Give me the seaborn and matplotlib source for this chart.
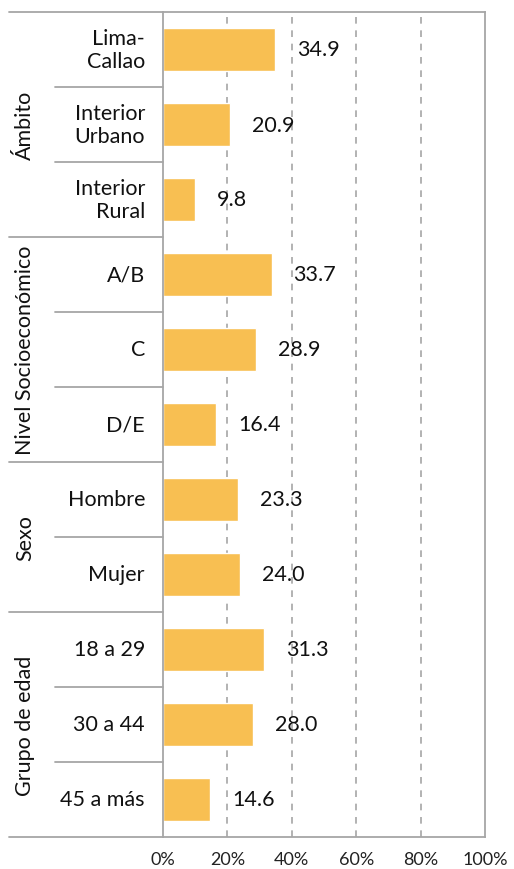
import matplotlib
matplotlib.use("Agg")
import matplotlib.pyplot as plt
import seaborn as sns
import pandas as pd
from matplotlib.lines import Line2D

categories = ["Lima-\nCallao", "Interior\nUrbano", "Interior\nRural", "A/B", "C", "D/E",
              "Hombre", "Mujer", "18 a 29", "30 a 44", "45 a más"]
values = [34.9, 20.9, 9.8, 33.7, 28.9, 16.4, 23.3, 24.0, 31.3, 28.0, 14.6]
value_labels = ["34.9", "20.9", "9.8", "33.7", "28.9", "16.4", "23.3", "24.0", "31.3", "28.0", "14.6"]
groups = ["Ámbito", "Nivel Socioeconómico", "Sexo", "Grupo de edad"]
group_sizes = [3, 3, 2, 3]
xticks = [0, 20, 40, 60, 80, 100]
xtick_labels = ["0%", "20%", "40%", "60%", "80%", "100%"]

sns.set_theme(style="white")
plt.rcParams["font.family"] = ["Lato", "DejaVu Sans"]

W, H = 514, 870
fig = plt.figure(figsize=(W / 100, H / 100), dpi=100)
L, R, T, B = 163, 485, 13, 838
ax = fig.add_axes([L / W, 1 - B / H, (R - L) / W, (B - T) / H])

df = pd.DataFrame({"cat": categories, "val": values})
sns.barplot(data=df, y="cat", x="val", orient="h", color="#F8BF52", saturation=1,
            width=0.58, ax=ax)

ax.set_xlim(0, 100)
ax.set_ylim(len(categories) - 0.5, -0.5)
ax.set_xlabel("")
ax.set_ylabel("")
ax.set_yticks([])
ax.set_xticks(xticks)
ax.set_xticklabels(xtick_labels, fontsize=13, color="#222222")
ax.tick_params(axis="x", length=5, width=1.2, color="#A6A6A6", pad=5)

gc = "#A6A6A6"
for s in ["left", "right", "top", "bottom"]:
    ax.spines[s].set_visible(True)
    ax.spines[s].set_color(gc)
    ax.spines[s].set_linewidth(1.3)

for xv in xticks[1:-1]:
    ax.axvline(xv, color=gc, linestyle=(0, (4, 4)), linewidth=1.2, zorder=0)

aw = R - L
tr = ax.get_yaxis_transform()
fs = 15.5
# value labels
for i, (v, lab) in enumerate(zip(values, value_labels)):
    ax.text(v + 22 / aw * 100, i, lab, va="center", ha="left", fontsize=fs, color="#111111")

# category labels
for i, c in enumerate(categories):
    ax.text(-18 / aw, i, c, transform=tr, ha="right", va="center", fontsize=fs,
            color="#111111", linespacing=1.2)

# separators
bounds = [-0.5]
acc = -0.5
for g in group_sizes:
    acc += g
    bounds.append(acc)
for b in bounds:
    ax.add_line(Line2D([-154 / aw, 0], [b, b], transform=tr, color=gc, lw=1.3, clip_on=False))
for i in range(len(categories) - 1):
    b = i + 0.5
    if b not in bounds:
        ax.add_line(Line2D([-108 / aw, 0], [b, b], transform=tr, color=gc, lw=1.3, clip_on=False))

# group labels
start = -0.5
for g, n in zip(groups, group_sizes):
    mid = start + n / 2
    ax.text(-138 / aw, mid, g, transform=tr, rotation=90, ha="center", va="center",
            fontsize=fs, color="#111111")
    start += n

fig.savefig("out.png", dpi=100)
